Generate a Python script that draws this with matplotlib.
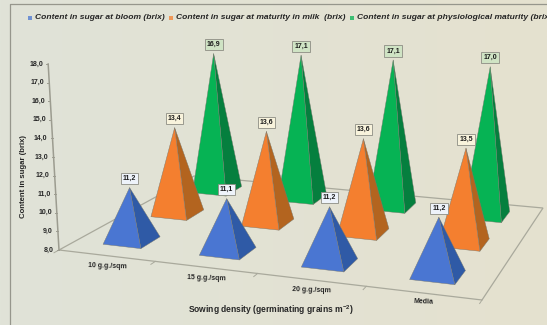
import numpy as np
import matplotlib
matplotlib.use('Agg')
import matplotlib.pyplot as plt
from matplotlib.patches import Polygon, Rectangle

plt.rcParams['font.family'] = 'Liberation Sans'
plt.rcParams['mathtext.fontset'] = 'custom'
plt.rcParams['mathtext.rm'] = 'Liberation Sans:bold'
plt.rcParams['mathtext.default'] = 'rm'

categories = ['10 g.g./sqm', '15 g.g./sqm', '20 g.g./sqm', 'Media']
series_names = ['Content in sugar at bloom (brix)',
                'Content in sugar at maturity in milk  (brix)',
                'Content in sugar at physiological maturity (brix)']
bloom = [11.2, 11.1, 11.2, 11.2]
milk = [13.4, 13.6, 13.6, 13.5]
physiological = [16.9, 17.1, 17.1, 17.0]
y_ticks = [8, 9, 10, 11, 12, 13, 14, 15, 16, 17, 18]

FRONT = ['#4a76d2', '#f47f2f', '#06b354']
SIDE = ['#2f5aa6', '#b3641f', '#057f3e']
LABEL_BG = ['#eef3fa', '#f8f3dc', '#cfe3c4']
GREY = '#9c9c90'
TEXT = '#262626'

# Perspective of the chart floor: unit square -> canvas pixels
floor_uv = np.array([[0, 0], [1, 0], [1, 1], [0, 1]], float)
floor_px = np.array([[59, 250], [482, 300], [543, 208], [194, 176]], float)
rows, rhs = [], []
for (u, v), (x, y) in zip(floor_uv, floor_px):
    rows.append([u, v, 1, 0, 0, 0, -u * x, -v * x]); rhs.append(x)
    rows.append([0, 0, 0, u, v, 1, -u * y, -v * y]); rhs.append(y)
H = np.append(np.linalg.solve(np.array(rows), np.array(rhs)), 1).reshape(3, 3)

UNIT_PX = 18.6     # height of one brix unit at the floor origin
LEAN_SLOPE = 0.0002  # verticals converge below the chart
LEAN_X0 = 350.0


def project(u, v, value=8.0, shrink=1.0):
    p = H @ np.array([u, v, 1.0])
    x, y = p[0] / p[2], p[1] / p[2]
    h = (value - 8.0) * UNIT_PX / p[2] * shrink
    return np.array([x + (x - LEAN_X0) * LEAN_SLOPE * h, y - h])


fig = plt.figure(figsize=(5.47, 3.25), dpi=100)
ax = fig.add_axes([0, 0, 1, 1])

# Backdrop: faint left-to-right tint
c0 = np.array([224, 227, 216]) / 255
c1 = np.array([229, 225, 207]) / 255
t = np.linspace(0, 1, 256)[None, :, None]
ax.imshow(c0 + (c1 - c0) * t, extent=[0, 547, 325, 0], aspect='auto', zorder=0)
ax.set_xlim(0, 547)
ax.set_ylim(325, 0)
ax.axis('off')
ax.plot([10, 10, 547], [325, 4, 4], color='#96968c', lw=0.9, zorder=1)

# Floor outline and its category ticks
ax.add_patch(Polygon([project(*c) for c in floor_uv], closed=True, fill=False,
                     ec='#a9a99c', lw=0.9, zorder=2))
for u in np.arange(len(categories) + 1) / len(categories):
    a, b = project(u, 0), project(u, -0.03)
    ax.plot([a[0], b[0]], [a[1], b[1]], color='#a9a99c', lw=0.7, zorder=2)

# Value axis rising from the floor origin
top = project(0, 0, y_ticks[-1])
ax.plot([59, top[0]], [250, top[1]], color=GREY, lw=1.1, zorder=2)
for tick in y_ticks:
    p = project(0, 0, tick)
    ax.plot([p[0] - 2, p[0]], [p[1], p[1]], color=GREY, lw=0.7, zorder=2)
    ax.text(p[0] - 5, p[1], f'{tick:.1f}'.replace('.', ','), ha='right', va='center',
            fontsize=5, fontweight='bold', color=TEXT, zorder=6)

ax.text(24, 176, 'Content in sugar (brix)', rotation=90, ha='center', va='center',
        fontsize=5.55, fontweight='bold', color=TEXT)
ax.text(271, 310, r'Sowing density (germinating grains m$^{-2}$)', ha='center', va='center',
        fontsize=6.15, fontweight='bold', color=TEXT)

# Category names sit just below the front edge
cat_label_xy = [(107, 266), (206, 278), (311, 290), (423, 302)]
for name, (x, y) in zip(categories, cat_label_xy):
    ax.text(x, y, name, ha='center', va='center', fontsize=5, fontweight='bold',
            color=TEXT, rotation=-2, rotation_mode='anchor')

# Pyramids, back row first
cat_u = [0.125, 0.375, 0.625, 0.875]
row_v = [(0.10, 0.235), (0.435, 0.575), (0.77, 0.915)]
HALF_U = 0.05
all_values = [bloom, milk, physiological]
for s in (2, 1, 0):
    v0, v1 = row_v[s]
    vc = (v0 + v1) / 2
    for i, val in enumerate(all_values[s]):
        u = cat_u[i]
        left = project(u - HALF_U, v0)
        mid = project(u + HALF_U, v0)
        right = project(u + HALF_U, v1)
        apex = project(u, vc, val, shrink=0.895 + 0.09 * vc)
        z = 3 + (2 - s) + i * 0.1
        ax.add_patch(Polygon([mid, right, apex], closed=True, fc=SIDE[s], ec='#77776c',
                             lw=0.3, joinstyle='round', zorder=z))
        ax.add_patch(Polygon([left, mid, apex], closed=True, fc=FRONT[s], ec='#77776c',
                             lw=0.3, joinstyle='round', zorder=z))
        ax.text(apex[0], apex[1] - 9, f'{val:.1f}'.replace('.', ','), ha='center', va='center',
                fontsize=5, fontweight='bold', color='#1c1c1c', zorder=9,
                bbox=dict(boxstyle='square,pad=0.3', fc=LABEL_BG[s], ec='#8d8d84', lw=0.6))

# Legend strip along the top
marker_x = [30, 171, 352]
for x, name, color in zip(marker_x, series_names, FRONT):
    ax.add_patch(Rectangle((x - 2, 15.5), 4, 4, fc=color, ec='none', alpha=0.75, zorder=6))
    ax.text(x + 5, 17.5, name, ha='left', va='center', fontsize=6.1, fontweight='bold',
            fontstyle='italic', color=TEXT, clip_on=True, zorder=6)

fig.savefig('out.png', dpi=100)
